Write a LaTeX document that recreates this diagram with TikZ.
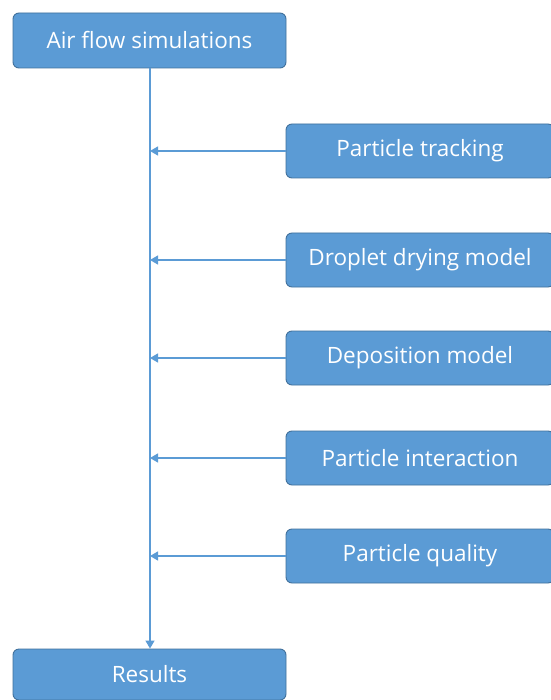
\documentclass[tikz,border=0pt]{standalone}
\usepackage{fontspec}
\setmainfont{Open Sans}
\usetikzlibrary{arrows.meta}
\definecolor{boxfill}{HTML}{5B9BD5}
\definecolor{boxedge}{HTML}{41719C}
\definecolor{linkblue}{HTML}{5B9BD5}
\begin{document}
\begin{tikzpicture}[x=1pt,y=-1pt,
  stagebox/.style={draw=boxedge, line width=0.9pt, fill=boxfill, rounded corners=6pt,
    text=white, font=\fontsize{22.5}{27}\selectfont, inner sep=0pt, anchor=center},
  mainbox/.style={stagebox, minimum width=273pt, minimum height=55pt},
  sidebox/.style={stagebox, minimum width=268pt, minimum height=54pt},
  link/.style={draw=linkblue, line width=1.2pt, -{Triangle[length=8pt,width=9pt]}}]
  % page frame
  \fill[white] (0,0) rectangle (550,700);
  \useasboundingbox (0,0) rectangle (550,700);

  % main column
  \node[mainbox] (air) at (149.5,40.5) {Air flow simulations};
  \node[stagebox, minimum width=273pt, minimum height=51pt] (res) at (149.5,674.5) {Results};

  % model stages feeding the flow
  \node[sidebox] (track) at (420,151) {Particle tracking};
  \node[sidebox] (dry)   at (420,260) {Droplet drying model};
  \node[sidebox] (dep)   at (420,358) {Deposition model};
  \node[sidebox] (inter) at (420,458) {Particle interaction};
  \node[sidebox] (qual)  at (420,556) {Particle quality};

  % spine from simulations down to results
  \draw[link] (air.south -| 150,0) -- (res.north -| 150,0);

  % side inputs joining the spine
  \foreach \n in {track,dry,dep,inter,qual}{
    \coordinate (\n-in) at (\n.west -| 150,0);
    \draw[link] (\n.west) -- (\n-in);
  }
\end{tikzpicture}
\end{document}
